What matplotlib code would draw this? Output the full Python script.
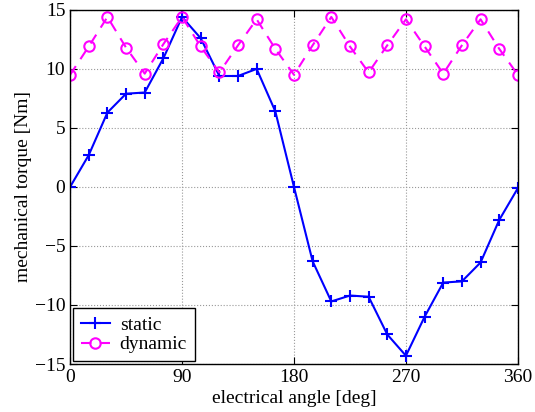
import matplotlib
matplotlib.use("Agg")
import matplotlib.pyplot as plt
import numpy as np

plt.rcParams['font.family'] = ['Liberation Serif', 'DejaVu Serif']

angle = np.arange(0, 361, 15)
static = [0, 2.7, 6.3, 7.9, 8.0, 10.9, 14.4, 12.6, 9.4, 9.4, 10.0, 6.4, 0,
          -6.3, -9.7, -9.2, -9.3, -12.5, -14.3, -11.0, -8.1, -8.0, -6.4, -2.8, -0.1]
dynamic = [9.5, 11.9, 14.4, 11.8, 9.6, 12.1, 14.4, 11.9, 9.7, 12.0, 14.2, 11.7, 9.5,
           12.0, 14.4, 11.9, 9.7, 12.0, 14.2, 11.9, 9.6, 12.0, 14.2, 11.7, 9.5]

fig = plt.figure(figsize=(5.35, 4.12), dpi=100)
ax = fig.add_axes([0.131, 0.1165, 0.837, 0.8595])

ax.plot(angle, static, color='#0000ff', marker='+', markersize=9, mew=1.5,
        lw=1.5, label='static')
ax.plot(angle, dynamic, color='#ff00ff', ls='--', marker='o', markersize=7.5,
        mfc='none', mew=1.5, lw=1.5, dashes=(5, 4), label='dynamic')

ax.set_xlim(0, 360)
ax.set_ylim(-15, 15)
ax.set_xticks([0, 90, 180, 270, 360])
ax.set_yticks([-15, -10, -5, 0, 5, 10, 15])
ax.set_yticklabels(['\u221215', '\u221210', '\u22125', '0', '5', '10', '15'])
ax.tick_params(direction='in', labelsize=14, top=True, right=True, length=5)
ax.grid(True, ls=':', color='#999999', lw=0.8)
for s in ax.spines.values():
    s.set_linewidth(1.0)

ax.set_xlabel('electrical angle [deg]', fontsize=14, labelpad=3)
ax.set_ylabel('mechanical torque [Nm]', fontsize=14, labelpad=2)

leg = ax.legend(loc='lower left', fontsize=14, fancybox=False, edgecolor='black',
                framealpha=1, borderaxespad=0.15, handlelength=1.5,
                handletextpad=0.5, borderpad=0.4, labelspacing=0.1)
leg.get_frame().set_linewidth(1.0)

fig.savefig('out.png', dpi=100)
